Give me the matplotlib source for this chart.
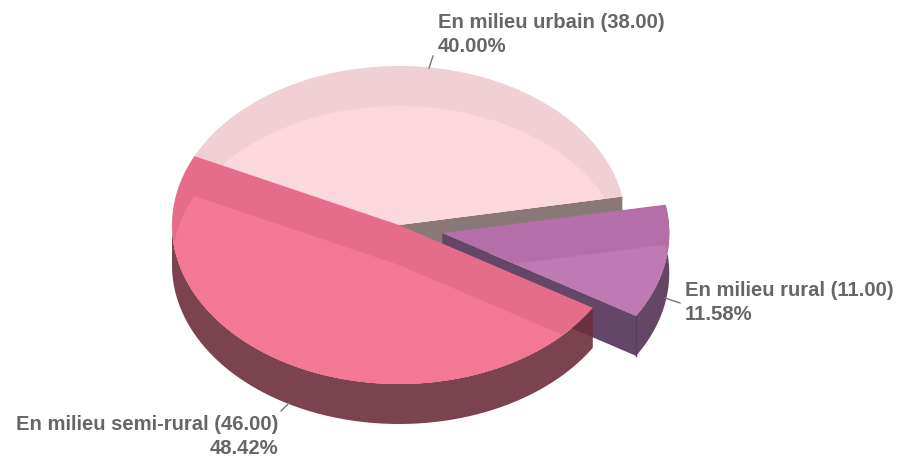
import numpy as np
import matplotlib
matplotlib.use('Agg')
import matplotlib.pyplot as plt
from matplotlib.patches import Polygon

names = ['En milieu urbain', 'En milieu semi-rural', 'En milieu rural']
values = [38.0, 46.0, 11.0]
explode = [0, 0, 44]
top_colors = ['#f0d0d5', '#e66c8b', '#b46fa9']
inner_colors = ['#fad8de', '#f27896', '#bd7ab3']
wall_colors = ['#8a7878', '#7d4150', '#644767']

cx, cy = 399, 225
rx, ry = 227, 159
depth = 40
start_angle = 10.3


def arc(x0, y0, a0, a1):
    t = np.radians(np.linspace(a0, a1, 120))
    return np.column_stack([x0 + rx * np.cos(t), y0 - ry * np.sin(t)])


def wedge_points(x0, y0, a0, a1):
    return np.vstack([[x0, y0], arc(x0, y0, a0, a1)])


def wall_points(x0, y0, a0, a1):
    top = arc(x0, y0, a0, a1)
    bottom = top + [0, depth]
    return np.vstack([top, bottom[::-1]])


def draw_top(ax, x0, y0, a0, a1, i, z):
    top = Polygon(wedge_points(x0, y0, a0, a1), closed=True, fc=top_colors[i], ec='none', zorder=z)
    ax.add_patch(top)
    inner = Polygon(wedge_points(x0, y0 + depth, a0, a1), closed=True, fc=inner_colors[i], ec='none', zorder=z + 0.1)
    ax.add_patch(inner)
    inner.set_clip_path(top)


fig = plt.figure(figsize=(9.03, 4.57), dpi=100)
ax = fig.add_axes([0, 0, 1, 1])
ax.set_xlim(0, 903)
ax.set_ylim(457, 0)
ax.axis('off')

total = sum(values)
angles = [start_angle]
for v in values:
    angles.append(angles[-1] + v / total * 360)
mids = [(angles[i] + angles[i + 1]) / 2 for i in range(3)]
centers = []
for i in range(3):
    m = np.radians(mids[i])
    centers.append((cx + explode[i] * np.cos(m), cy - explode[i] * np.sin(m)))

# urban, back of the pie
x0, y0 = centers[0]
a0, a1 = angles[0], angles[1]
end = arc(x0, y0, a0, a0)[0]
wall = [[x0, y0], end, end + [0, depth], [x0, y0 + depth]]
ax.add_patch(Polygon(wall, closed=True, fc=wall_colors[0], ec='none', zorder=1))
draw_top(ax, x0, y0, a0, a1, 0, 2)

# rural, exploded piece
x0, y0 = centers[2]
a0, a1 = angles[2], angles[3]
start = arc(x0, y0, a0, a0)[0]
wall = [[x0, y0], start, start + [0, depth], [x0, y0 + depth]]
ax.add_patch(Polygon(wall, closed=True, fc=wall_colors[2], ec='none', zorder=3))
ax.add_patch(Polygon(wall_points(x0, y0, a0, a1), closed=True, fc=wall_colors[2], ec='none', zorder=3.2))
ax.plot([start[0], start[0]], [start[1], start[1] + depth], color='#5a3d5e', lw=1, zorder=3.3)
draw_top(ax, x0, y0, a0, a1, 2, 4)

# semi-rural, front of the pie
x0, y0 = centers[1]
a0, a1 = angles[1], angles[2]
ax.add_patch(Polygon(wall_points(x0, y0, max(a0, 180), a1), closed=True, fc='#6d2d3c', alpha=0.9, ec='none', zorder=5))
draw_top(ax, x0, y0, a0, a1, 1, 6)

# labels
label_pos = [(438, 22, 'left'), (278, 424, 'right'), (685, 290, 'left')]
line_starts = [(429, 68), (281, 411), (665, 298)]
line_ends = [(433, 56), (289, 403), (680, 303)]
for i in range(3):
    ax.plot([line_starts[i][0], line_ends[i][0]], [line_starts[i][1], line_ends[i][1]],
            color='#777777', lw=1, zorder=7)
    pct = values[i] / total * 100
    tx, ty, ha = label_pos[i]
    style = dict(ha=ha, va='center', color='#666666', fontsize=14.6, fontweight='bold',
                 family='Liberation Sans', zorder=8)
    ax.text(tx, ty, f'{names[i]} ({values[i]:.2f})', **style)
    ax.text(tx, ty + 25, f'{pct:.2f}%', **style)

plt.savefig('out.png', dpi=100)
